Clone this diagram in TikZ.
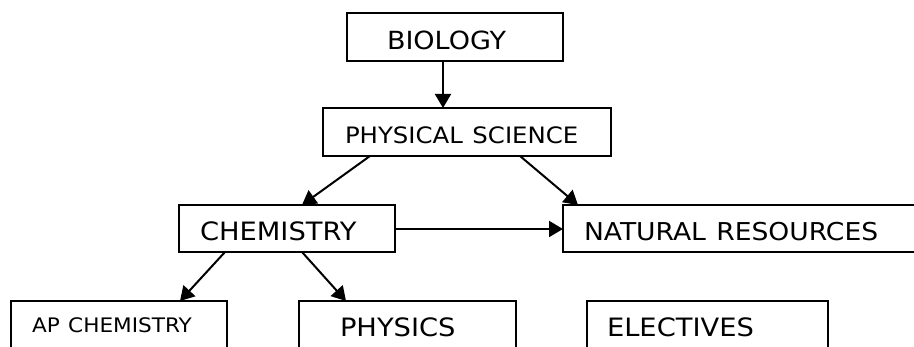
\documentclass[tikz,border=0pt]{standalone}
\usepackage{fontspec}
\setmainfont{DejaVu Sans}[FakeStretch=1.08]
\usetikzlibrary{arrows.meta}
\newcommand{\wsp}{\hspace{0.42em}}
\begin{document}
\begin{tikzpicture}[x=1pt,y=-1pt,
  box/.style={draw, line width=2.3pt, rectangle, anchor=north west,
    inner xsep=0pt, inner ysep=0pt, outer sep=0pt, align=left, text depth=0pt},
  conn/.style={line width=2pt, -{Triangle[length=14pt,width=16pt]}}]
\useasboundingbox (0,0) rectangle (914,347);
\clip (0,0) rectangle (914,347);
% boxes
\node[box, text width=216pt, minimum height=48pt, text height=26pt] (bio) at (347,13)
  {\noindent\hspace*{40pt}\fontsize{25}{28}\selectfont BIOLOGY};
\node[box, text width=288pt, minimum height=48pt, text height=24pt] (ps) at (323,108)
  {\noindent\hspace*{22pt}\fontsize{22.6}{26}\selectfont PHYSICAL\wsp SCIENCE};
\node[box, text width=216pt, minimum height=47pt, text height=25pt] (chem) at (179,205)
  {\noindent\hspace*{21pt}\fontsize{25.3}{28}\selectfont CHEMISTRY};
\node[box, text width=360pt, minimum height=47pt, text height=25pt] (nr) at (563,205)
  {\noindent\hspace*{21pt}\fontsize{24.6}{28}\selectfont NATURAL\wsp RESOURCES};
\node[box, text width=216pt, minimum height=60pt, text height=4pt] (apchem) at (11,301)
  {\noindent\hspace*{21pt}\fontsize{20}{24}\selectfont AP\wsp CHEMISTRY};
\node[box, text width=217pt, minimum height=60pt, text height=12pt] (phys) at (299,301)
  {\noindent\hspace*{41pt}\fontsize{25.3}{28}\selectfont PHYSICS};
\node[box, text width=241pt, minimum height=60pt, text height=12pt] (elec) at (587,301)
  {\noindent\hspace*{20pt}\fontsize{25.3}{28}\selectfont ELECTIVES};
% connectors
\draw[conn] (bio.south -| 443,0) -- (ps.north -| 443,0);
\draw[conn] (ps.south -| 370,0) -- (chem.north -| 302,0);
\draw[conn] (ps.south -| 520,0) -- (nr.north -| 578,0);
\draw[conn] (chem.east |- 0,229) -- (nr.west |- 0,229);
\draw[conn] (chem.south -| 225,0) -- (apchem.north -| 180,0);
\draw[conn] (chem.south -| 302,0) -- (phys.north -| 346,0);
\end{tikzpicture}
\end{document}
